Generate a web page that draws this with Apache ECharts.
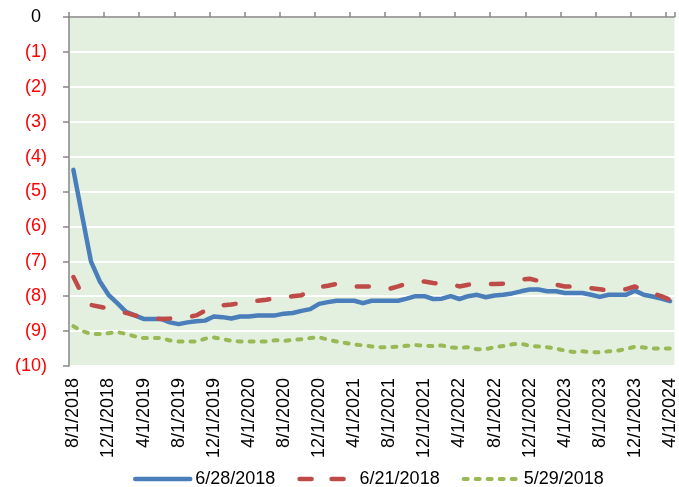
<!DOCTYPE html>
<html>
<head>
<meta charset="utf-8">
<script src="https://cdn.jsdelivr.net/npm/echarts@6/dist/echarts.min.js"></script>
<style>html,body{margin:0;padding:0;background:#fff}#c{width:679px;height:487px}</style>
</head>
<body>
<div id="c"></div>
<script>
// Monthly categories 8/1/2018 .. 4/1/2024
const categories = [
'8/1/2018','9/1/2018','10/1/2018','11/1/2018','12/1/2018',
'1/1/2019','2/1/2019','3/1/2019','4/1/2019','5/1/2019','6/1/2019','7/1/2019','8/1/2019','9/1/2019','10/1/2019','11/1/2019','12/1/2019',
'1/1/2020','2/1/2020','3/1/2020','4/1/2020','5/1/2020','6/1/2020','7/1/2020','8/1/2020','9/1/2020','10/1/2020','11/1/2020','12/1/2020',
'1/1/2021','2/1/2021','3/1/2021','4/1/2021','5/1/2021','6/1/2021','7/1/2021','8/1/2021','9/1/2021','10/1/2021','11/1/2021','12/1/2021',
'1/1/2022','2/1/2022','3/1/2022','4/1/2022','5/1/2022','6/1/2022','7/1/2022','8/1/2022','9/1/2022','10/1/2022','11/1/2022','12/1/2022',
'1/1/2023','2/1/2023','3/1/2023','4/1/2023','5/1/2023','6/1/2023','7/1/2023','8/1/2023','9/1/2023','10/1/2023','11/1/2023','12/1/2023',
'1/1/2024','2/1/2024','3/1/2024','4/1/2024'
];

const series_6_28_2018 = [
-4.38,-5.7,-7.0,-7.57,-7.96,-8.2,-8.45,-8.55,-8.65,-8.65,-8.65,-8.75,-8.8,-8.75,-8.72,-8.7,-8.58,
-8.6,-8.64,-8.58,-8.58,-8.55,-8.55,-8.55,-8.5,-8.48,-8.42,-8.37,-8.22,
-8.17,-8.13,-8.13,-8.13,-8.2,-8.13,-8.13,-8.13,-8.13,-8.07,-8.0,-8.0,
-8.08,-8.07,-8.0,-8.08,-8.0,-7.96,-8.03,-7.98,-7.96,-7.92,-7.86,-7.81,
-7.81,-7.86,-7.86,-7.91,-7.91,-7.91,-7.96,-8.02,-7.96,-7.96,-7.96,-7.84,
-7.96,-8.01,-8.07,-8.14
];

const series_6_21_2018 = [
-7.45,-7.95,-8.25,-8.3,-8.35,-8.42,-8.48,-8.55,-8.6,-8.64,-8.65,-8.64,-8.62,-8.6,-8.55,-8.42,-8.29,
-8.26,-8.24,-8.2,-8.15,-8.13,-8.1,-8.06,-8.03,-8.0,-7.97,-7.85,-7.74,
-7.7,-7.65,-7.67,-7.72,-7.72,-7.72,-7.75,-7.79,-7.72,-7.64,-7.6,-7.58,
-7.62,-7.65,-7.65,-7.72,-7.67,-7.65,-7.65,-7.65,-7.64,-7.58,-7.52,-7.5,
-7.56,-7.64,-7.67,-7.72,-7.73,-7.75,-7.77,-7.8,-7.84,-7.83,-7.8,-7.72,
-7.84,-7.92,-8.0,-8.1
];

const series_5_29_2018 = [
-8.86,-9.0,-9.08,-9.08,-9.06,-9.03,-9.08,-9.15,-9.2,-9.2,-9.2,-9.27,-9.3,-9.3,-9.3,-9.22,-9.18,
-9.23,-9.28,-9.3,-9.3,-9.3,-9.3,-9.26,-9.28,-9.25,-9.23,-9.2,-9.18,
-9.24,-9.3,-9.34,-9.38,-9.41,-9.44,-9.46,-9.46,-9.45,-9.42,-9.4,-9.42,
-9.43,-9.41,-9.47,-9.48,-9.46,-9.52,-9.52,-9.46,-9.43,-9.38,-9.36,-9.42,
-9.44,-9.46,-9.5,-9.56,-9.6,-9.58,-9.6,-9.61,-9.58,-9.56,-9.51,-9.45,
-9.47,-9.5,-9.5,-9.5
];

const yTickValues = [0,-1,-2,-3,-4,-5,-6,-7,-8,-9,-10];
const yTickLabels = ['0','(1)','(2)','(3)','(4)','(5)','(6)','(7)','(8)','(9)','(10)'];
const seriesNames = ['6/28/2018','6/21/2018','5/29/2018'];

const FONT = 'Liberation Sans';
const chart = echarts.init(document.getElementById('c'), null, {renderer:'canvas'});
const gray = '#868686';
const colors = ['#4A7EBB', '#BE4B48', '#98B954'];
const widths = [4.5, 4.5, 4];
const dashes = ['solid', [12, 22], [4, 8]];

function lineItem(i, data) {
  return {
    name: seriesNames[i], type: 'line', data: data, symbol: 'circle', showSymbol: false, xAxisIndex: 0,
    lineStyle: {color: colors[i], width: widths[i], type: dashes[i], cap: 'round', join: 'round'},
    itemStyle: {color: colors[i]},
    emphasis: {disabled: true}, animation: false
  };
}

chart.setOption({
  animation: false,
  backgroundColor: '#ffffff',
  textStyle: {fontFamily: FONT},
  grid: {left: 69, right: 0, top: 17, bottom: 121, show: true, backgroundColor: '#E3EFDF', borderWidth: 0},
  legend: {
    left: 128, top: 465, itemWidth: 55, itemHeight: 14, itemGap: 22,
    textStyle: {fontFamily: FONT, fontSize: 18, color: '#000'},
    itemStyle: {opacity: 0},
    data: seriesNames.map(function (n, i) {
      return {name: n, itemStyle: {opacity: 0},
        lineStyle: {color: colors[i], width: widths[i], type: i === 1 ? [12, 20] : dashes[i], cap: 'round'}};
    })
  },
  xAxis: [{
    type: 'category', data: categories, position: 'bottom', boundaryGap: true,
    axisLine: {show: false}, axisTick: {show: false}, splitLine: {show: false},
    axisLabel: {rotate: 90, interval: 3, margin: 12, fontFamily: FONT, fontSize: 18, color: '#000'}
  }, {
    type: 'category', data: categories, position: 'top', boundaryGap: true,
    axisLine: {show: true, lineStyle: {color: gray, width: 1.5}},
    axisTick: {show: true, interval: 3, length: 5, lineStyle: {color: gray, width: 1.5}},
    axisLabel: {show: false}, splitLine: {show: false}
  }],
  yAxis: {
    type: 'value', min: -10, max: 0, interval: 1,
    axisLine: {show: true, lineStyle: {color: gray, width: 1.5}},
    axisTick: {show: true, length: 6, lineStyle: {color: gray, width: 1.5}},
    splitLine: {show: true, lineStyle: {color: '#ffffff', width: 2}},
    axisLabel: {
      margin: 22, fontFamily: FONT, fontSize: 18,
      formatter: function (v) {
        const i = yTickValues.indexOf(Math.round(v));
        if (i < 0) return '';
        return yTickValues[i] < 0 ? yTickLabels[i] : '{p|' + yTickLabels[i] + '}';
      },
      rich: {p: {fontFamily: FONT, fontSize: 18, color: '#000000', padding: [0, 6, 0, 0]}},
      color: function (v) { return Number(v) < 0 ? '#FF0000' : '#000000'; }
    }
  },
  series: [
    lineItem(0, series_6_28_2018),
    lineItem(1, series_6_21_2018),
    lineItem(2, series_5_29_2018)
  ]
});
</script>
</body>
</html>
